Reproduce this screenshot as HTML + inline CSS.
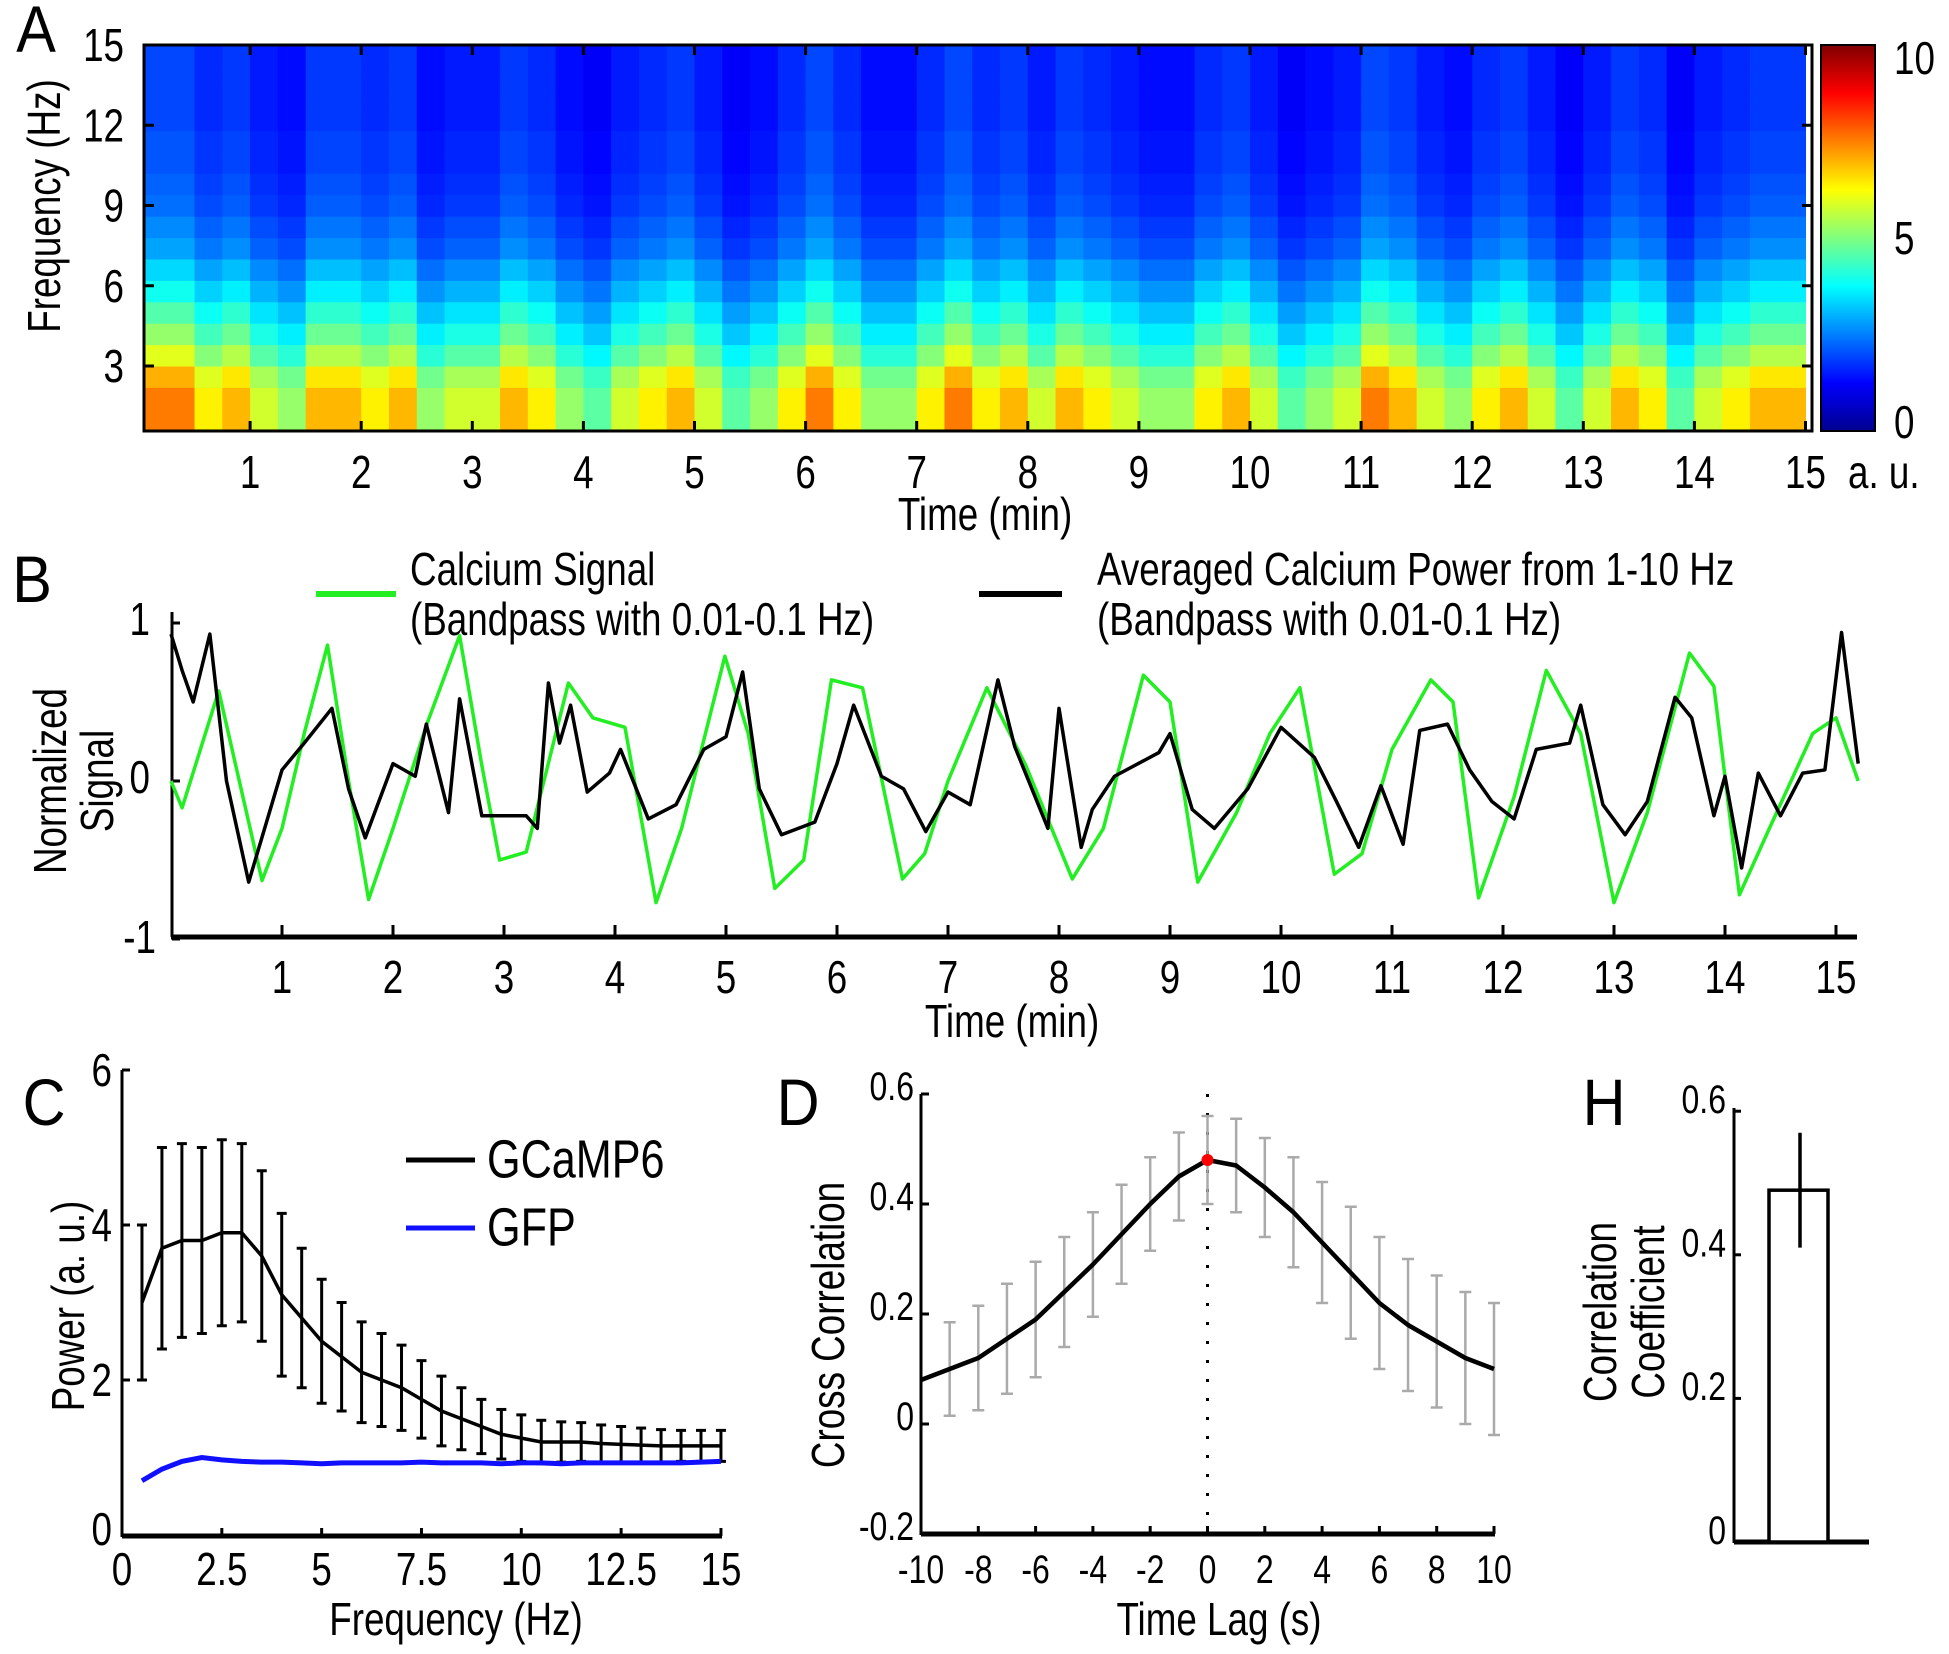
<!DOCTYPE html>
<html><head><meta charset="utf-8"><style>
html,body{margin:0;padding:0;background:#fff;}
svg{display:block;font-family:"Liberation Sans",sans-serif;}
</style></head><body>
<svg id="fig" width="1949" height="1654" viewBox="0 0 1949 1654" xmlns="http://www.w3.org/2000/svg">
<defs>
<linearGradient id="jet" x1="0" y1="1" x2="0" y2="0">
<stop offset="0" stop-color="#00008f"/><stop offset="0.125" stop-color="#0000ff"/><stop offset="0.375" stop-color="#00ffff"/><stop offset="0.625" stop-color="#ffff00"/><stop offset="0.875" stop-color="#ff0000"/><stop offset="1" stop-color="#800000"/>
</linearGradient>
</defs>
<rect x="0" y="0" width="1949" height="1654" fill="#fff"/>
</svg>
<script>
// ---- Panel A data ----
const specTimeMod = [1.3,1.3,1.1,1.2,1.0,0.9,1.2,1.2,1.1,1.2,0.9,1.0,1.0,1.2,1.1,0.9,0.8,1.0,1.1,1.2,1.0,0.8,0.9,1.1,1.3,1.1,0.9,0.9,1.1,1.3,1.1,1.2,1.0,1.2,1.1,1.0,0.9,0.9,1.1,1.2,1.0,0.8,0.9,1.0,1.3,1.2,1.0,0.9,1.1,1.2,1.0,0.8,1.0,1.2,1.1,0.8,1.0,1.1,1.2,1.2];
const specFreqProfile = [5.8,5.8,5.4,4.6,4.0,3.5,3.0,2.6,2.2,2.0,1.8,1.7,1.6,1.6,1.5,1.5,1.5,1.5];
const specTimeTicks = [1,2,3,4,5,6,7,8,9,10,11,12,13,14,15];
const specFreqTicks = [3,6,9,12,15];
const cbarTicks = [0,5,10];
// ---- Panel B data ----
const greenT = [0,0.1,0.43,0.82,1.0,1.2,1.41,1.6,1.78,2.0,2.3,2.6,2.8,2.96,3.2,3.58,3.8,4.09,4.37,4.6,4.99,5.2,5.44,5.7,5.95,6.23,6.59,6.79,7.0,7.35,7.7,8.12,8.4,8.76,9.0,9.25,9.6,9.9,10.17,10.48,10.73,11.0,11.35,11.55,11.78,12.1,12.39,12.7,13.0,13.3,13.68,13.9,14.13,14.4,14.79,15.0,15.2];
const greenV = [0.0,-0.17,0.57,-0.63,-0.3,0.3,0.86,0.0,-0.75,-0.3,0.35,0.92,0.1,-0.5,-0.45,0.62,0.4,0.34,-0.77,-0.3,0.79,0.3,-0.68,-0.5,0.64,0.59,-0.62,-0.46,0.0,0.59,0.1,-0.62,-0.3,0.67,0.5,-0.64,-0.2,0.3,0.59,-0.59,-0.46,0.2,0.64,0.5,-0.74,-0.1,0.7,0.3,-0.77,-0.2,0.81,0.6,-0.72,-0.3,0.3,0.4,0.0];
const blackT = [0,0.1,0.2,0.35,0.5,0.7,1.0,1.2,1.45,1.6,1.75,2.0,2.2,2.3,2.5,2.6,2.8,3.2,3.3,3.4,3.5,3.6,3.75,3.95,4.05,4.3,4.55,4.8,5.0,5.15,5.3,5.5,5.8,6.0,6.15,6.4,6.6,6.8,7.0,7.2,7.45,7.6,7.9,8.0,8.2,8.3,8.5,8.9,9.0,9.2,9.4,9.7,10.0,10.3,10.5,10.7,10.9,11.1,11.25,11.5,11.7,11.9,12.1,12.3,12.6,12.7,12.9,13.1,13.3,13.55,13.7,13.9,14.0,14.15,14.3,14.5,14.7,14.9,15.05,15.2];
const blackV = [0.93,0.7,0.5,0.93,0.0,-0.64,0.07,0.24,0.46,-0.05,-0.36,0.11,0.03,0.36,-0.2,0.52,-0.22,-0.22,-0.3,0.62,0.24,0.48,-0.07,0.05,0.2,-0.24,-0.15,0.2,0.28,0.69,-0.05,-0.34,-0.26,0.11,0.48,0.03,-0.05,-0.32,-0.07,-0.15,0.64,0.22,-0.3,0.46,-0.42,-0.18,0.03,0.18,0.3,-0.18,-0.3,-0.05,0.34,0.15,-0.13,-0.42,-0.03,-0.4,0.32,0.36,0.07,-0.13,-0.24,0.2,0.24,0.48,-0.15,-0.34,-0.13,0.53,0.4,-0.22,0.03,-0.55,0.05,-0.22,0.05,0.07,0.94,0.11];
const bTimeTicks = [1,2,3,4,5,6,7,8,9,10,11,12,13,14,15];
const bYTicks = [-1,0,1];
// ---- Panel C data ----
const cFreq = [0.5,1,1.5,2,2.5,3,3.5,4,4.5,5,5.5,6,6.5,7,7.5,8,8.5,9,9.5,10,10.5,11,11.5,12,12.5,13,13.5,14,14.5,15];
const gcampMean = [3.0,3.7,3.8,3.8,3.9,3.9,3.6,3.1,2.8,2.5,2.3,2.1,2.0,1.9,1.75,1.6,1.5,1.4,1.3,1.25,1.2,1.2,1.2,1.18,1.17,1.16,1.15,1.15,1.15,1.15];
const gcampErr = [1.0,1.3,1.25,1.2,1.2,1.15,1.1,1.05,0.9,0.8,0.7,0.65,0.6,0.55,0.5,0.45,0.4,0.35,0.32,0.3,0.28,0.26,0.25,0.24,0.23,0.22,0.21,0.2,0.2,0.2];
const gfpMean = [0.7,0.85,0.95,1.0,0.97,0.95,0.94,0.94,0.93,0.92,0.93,0.93,0.93,0.93,0.94,0.93,0.93,0.93,0.92,0.93,0.93,0.92,0.93,0.93,0.93,0.93,0.93,0.93,0.94,0.95];
const cXTicks = [0,2.5,5,7.5,10,12.5,15];
const cYTicks = [0,2,4,6];
// ---- Panel D data ----
const dLag = [-10,-9,-8,-7,-6,-5,-4,-3,-2,-1,0,1,2,3,4,5,6,7,8,9,10];
const dCorr = [0.08,0.10,0.12,0.155,0.19,0.24,0.29,0.345,0.40,0.45,0.48,0.47,0.43,0.385,0.33,0.275,0.22,0.18,0.15,0.12,0.10];
const dErr = [0.08,0.085,0.095,0.1,0.105,0.1,0.095,0.09,0.085,0.08,0.08,0.085,0.09,0.1,0.11,0.12,0.12,0.12,0.12,0.12,0.12];
const dXTicks = [-10,-8,-6,-4,-2,0,2,4,6,8,10];
const dYTicks = [-0.2,0,0.2,0.4,0.6];
// ---- Panel H data ----
const hValue = [0.49];
const hErr = [0.08];
const hYTicks = [0,0.2,0.4,0.6];

const svg = document.getElementById('fig');
const NS = 'http://www.w3.org/2000/svg';
function mk(tag, a, parent){const e=document.createElementNS(NS,tag);for(const k in a)e.setAttribute(k,a[k]);(parent||svg).appendChild(e);return e;}
function txt(x,y,s,name,opt){opt=opt||{};const size=opt.size||46,sx=opt.sx||0.8,anchor=opt.anchor||'middle',rot=opt.rot||0;
 const e=mk('text',{transform:`translate(${x},${y}) rotate(${rot}) scale(${sx},1)`,'font-size':size,'text-anchor':anchor,fill:opt.fill||'#000','dominant-baseline':'central'});
 e.textContent=s;
 
 
 return e;}
function line(x1,y1,x2,y2,name,st,w){const e=mk('line',{x1,y1,x2,y2,stroke:st||'#000','stroke-width':w||3});
 
 
 return e;}
function jet(v){let t=Math.max(0,Math.min(1,v/10));
 const r=Math.max(0,Math.min(1,Math.min(4*t-1.5,-4*t+4.5))),g=Math.max(0,Math.min(1,Math.min(4*t-0.5,-4*t+3.5))),b=Math.max(0,Math.min(1,Math.min(4*t+0.5,-4*t+2.5)));
 return `rgb(${Math.round(r*255)},${Math.round(g*255)},${Math.round(b*255)})`;}

// Panel letters
txt(36,30,'A','panel-label-a',{size:66,sx:0.9});
txt(32,580,'B','panel-label-b',{size:66,sx:0.9});
txt(44,1103,'C','panel-label-c',{size:66,sx:0.9});
txt(798,1103,'D','panel-label-d',{size:66,sx:0.9});
txt(1604,1103,'H','panel-label-h',{size:66,sx:0.9});

// ===== Panel A =====
const xA=t=>139+t*111.1, yA=f=>45+(15-f)*26.75;
const gA=mk('g',{});


const tStep=0.25, f0=0.6, fStep=0.8;
specTimeMod.forEach((m,i)=>{specFreqProfile.forEach((p,j)=>{
 const x1=Math.max(xA(i*tStep),144), x2=Math.min(xA((i+1)*tStep),1812);
 const y1=yA(f0+(j+1)*fStep), y2=yA(f0+j*fStep);
 const c=mk('rect',{x:x1,y:y1,width:x2-x1+0.5,height:y2-y1+0.5,fill:jet(p*m)},gA);
 
 
});});
const strip=mk('rect',{x:144,y:yA(f0),width:1668,height:431-yA(f0),fill:'#1030ff'});


const boxA=mk('rect',{x:144,y:45,width:1668,height:386,fill:'none',stroke:'#000','stroke-width':3});


specTimeTicks.forEach(t=>{line(xA(t),431,xA(t),421,'x-tick-a');line(xA(t),45,xA(t),55,'x-tick-a');
 txt(xA(t),472,String(t),'x-tick-label-a');});
specFreqTicks.forEach(f=>{line(144,yA(f),154,yA(f),'y-tick-a');line(1812,yA(f),1802,yA(f),'y-tick-a');
 txt(124,yA(f),String(f),'y-tick-label-a',{anchor:'end'});});
txt(985,514,'Time (min)','x-axis-title-a');
txt(44,206,'Frequency (Hz)','y-axis-title-a',{rot:-90});
const cb=mk('rect',{x:1821,y:45,width:54,height:386,fill:'url(#jet)',stroke:'#000','stroke-width':2});


cbarTicks.forEach(v=>{const y=431-v/10*386;txt(1894,Math.min(Math.max(y,58),422),String(v),'colorbar-tick-label',{anchor:'start'});});
txt(1848,472,'a. u.','colorbar-unit-label',{anchor:'start'});

// ===== Panel B =====
const xB=t=>171+t*111, yB=v=>781-v*158;
line(172,612,172,937,'y-axis-b',null,3);
line(171,937,1857,937,'x-axis-b',null,5);
bTimeTicks.forEach(t=>{line(xB(t),937,xB(t),925,'x-tick-b');txt(xB(t),977,String(t),'x-tick-label-b');});
bYTicks.forEach(v=>{line(172,yB(v),180,yB(v),'y-tick-b');txt(v===-1?156:150,v===-1?yB(v)-2:yB(v)-4,String(v),'y-tick-label-b',{anchor:'end'});});
txt(1012,1021,'Time (min)','x-axis-title-b');
txt(50,781,'Normalized','y-axis-title-b-line1',{rot:-90});
txt(97,781,'Signal','y-axis-title-b-line2',{rot:-90});
const gp=mk('polyline',{points:greenT.map((t,i)=>xB(t)+','+yB(greenV[i])).join(' '),fill:'none',stroke:'#22ee22','stroke-width':3.5,'stroke-linejoin':'round'});


const bp=mk('polyline',{points:blackT.map((t,i)=>xB(t)+','+yB(blackV[i])).join(' '),fill:'none',stroke:'#000','stroke-width':3.5,'stroke-linejoin':'round'});


line(316,594,396,594,'legend-swatch-calcium','#22ee22',6);
line(979,594,1062,594,'legend-swatch-power','#000',6);
txt(410,569,'Calcium Signal','legend-label-calcium',{anchor:'start'});
txt(410,619,'(Bandpass with 0.01-0.1 Hz)','legend-sublabel-calcium',{anchor:'start'});
txt(1097,569,'Averaged Calcium Power from 1-10 Hz','legend-label-power',{anchor:'start'});
txt(1097,619,'(Bandpass with 0.01-0.1 Hz)','legend-sublabel-power',{anchor:'start'});

// ===== Panel C =====
const xC=f=>122+f*39.93, yC=p=>1535-p*77.5;
line(122,1070,122,1537,'y-axis-c',null,3);
line(122,1536,722,1536,'x-axis-c',null,5);
cXTicks.forEach(f=>{line(xC(f),1536,xC(f),1528,'x-tick-c');txt(xC(f),1569,String(f),'x-tick-label-c');});
cYTicks.forEach(p=>{line(122,yC(p),130,yC(p),'y-tick-c');txt(112,p===0?yC(p)-6:yC(p),String(p),'y-tick-label-c',{anchor:'end'});});
cFreq.forEach((f,i)=>{const x=xC(f),t=yC(gcampMean[i]+gcampErr[i]),b=yC(gcampMean[i]-gcampErr[i]);
 line(x,t,x,b,'gcamp-error-bar',null,3);line(x-5,t,x+5,t,'gcamp-error-cap',null,3);line(x-5,b,x+5,b,'gcamp-error-cap',null,3);});
const gc=mk('polyline',{points:cFreq.map((f,i)=>xC(f)+','+yC(gcampMean[i])).join(' '),fill:'none',stroke:'#000','stroke-width':3.5});


const gf=mk('polyline',{points:cFreq.map((f,i)=>xC(f)+','+yC(gfpMean[i])).join(' '),fill:'none',stroke:'#1010ff','stroke-width':5});


line(406,1160,475,1160,'legend-swatch-gcamp6','#000',5);
line(406,1228,475,1228,'legend-swatch-gfp','#1010ff',5);
txt(487,1160,'GCaMP6','legend-label-gcamp6',{anchor:'start',size:54});
txt(487,1228,'GFP','legend-label-gfp',{anchor:'start',size:54});
txt(456,1619,'Frequency (Hz)','x-axis-title-c');
txt(68,1306,'Power (a. u.)','y-axis-title-c',{rot:-90});

// ===== Panel D =====
const xD=l=>921+(l+10)*28.65, yD=v=>1424-v*550;
line(921,1094,921,1535,'y-axis-d',null,3);
line(921,1534,1495,1534,'x-axis-d',null,5);
const zl=mk('line',{x1:xD(0),y1:1094,x2:xD(0),y2:1534,stroke:'#000','stroke-width':3,'stroke-dasharray':'3 16'});


dXTicks.forEach(l=>{line(xD(l),1534,xD(l),1526,'x-tick-d');txt(xD(l),1569,String(l),'x-tick-label-d',{size:40});});
dYTicks.forEach(v=>{line(921,yD(v),929,yD(v),'y-tick-d');txt(914,yD(v)-8,String(v),'y-tick-label-d',{anchor:'end',size:40});});
dLag.forEach((l,i)=>{if(l===-10)return;const x=xD(l),t=yD(dCorr[i]+dErr[i]),b=yD(dCorr[i]-dErr[i]);
 line(x,t,x,b,'cross-correlation-error-bar','#aaa',2.5);line(x-6,t,x+6,t,'error-cap','#aaa',2.5);line(x-6,b,x+6,b,'error-cap','#aaa',2.5);});
const dc=mk('polyline',{points:dLag.map((l,i)=>xD(l)+','+yD(dCorr[i])).join(' '),fill:'none',stroke:'#000','stroke-width':4.5,'stroke-linejoin':'round'});


const pk=mk('circle',{cx:xD(0),cy:yD(dCorr[10]),r:6,fill:'#f00'});


txt(1219,1619,'Time Lag (s)','x-axis-title-d');
txt(828,1325,'Cross Correlation','y-axis-title-d',{rot:-90});

// ===== Panel H =====
const yH=v=>1542-v*718;
line(1734,1108,1734,1543,'y-axis-h',null,3);
line(1734,1542,1869,1542,'x-axis-h',null,5);
hYTicks.forEach(v=>{line(1734,yH(v),1741,yH(v),'y-tick-h');txt(1726,yH(v)-12,String(v),'y-tick-label-h',{anchor:'end',size:40});});
hValue.forEach((v,i)=>{
 const r=mk('rect',{x:1769,y:yH(v),width:59,height:1542-yH(v),fill:'#fff',stroke:'#000','stroke-width':3.5});
 
 
 line(1800,yH(v+hErr[i]),1800,yH(v-hErr[i]),'correlation-error-bar',null,3.5);
});
txt(1600,1312,'Correlation','y-axis-title-h-line1',{rot:-90});
txt(1648,1312,'Coefficient','y-axis-title-h-line2',{rot:-90});
</script>
</body></html>
